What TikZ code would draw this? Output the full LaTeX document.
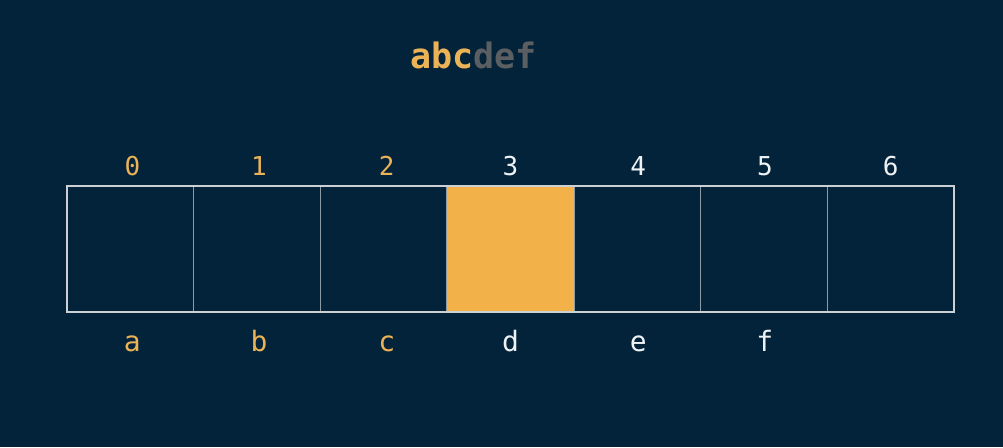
\documentclass[tikz,border=0pt]{standalone}
\usepackage{fontspec}
\setmonofont{DejaVu Sans Mono}
\definecolor{bgnavy}{HTML}{03233A}
\definecolor{hlorange}{HTML}{F3B14A}
\definecolor{txtorange}{HTML}{EBB256}
\definecolor{dimgray}{HTML}{5C5F62}
\definecolor{framegray}{HTML}{CBD0D5}
\definecolor{linegray}{HTML}{8D9BA5}
\definecolor{offwhite}{HTML}{EEF2F5}
\tikzset{
  cell/.style={draw=linegray, line width=0.7pt, minimum width=63.36pt,
    minimum height=63pt, inner sep=0pt, outer sep=0pt},
  idxlabel/.style={font=\ttfamily\fontsize{13}{15}\selectfont, anchor=base},
  charlabel/.style={font=\ttfamily\fontsize{14}{16}\selectfont, anchor=base},
}
\begin{document}
\begin{tikzpicture}[x=0.5pt, y=-0.5pt]
  % Background and page size
  \fill[bgnavy] (0,0) rectangle (1003,447);
  \useasboundingbox (0,0) rectangle (1003,447);
  % The string being read
  \node[font=\ttfamily\bfseries\fontsize{17.5}{19}\selectfont, anchor=base]
    (word) at (473.5,68) {\textcolor{txtorange}{abc}\textcolor{dimgray}{def}};
  % Array cells, index above, character below
  \foreach \i/\ch/\col/\dx in {0/a/txtorange/2, 1/b/txtorange/2,
      2/c/txtorange/3, 3/d/offwhite/0, 4/e/offwhite/1,
      5/f/offwhite/1, 6//offwhite/0} {
    \node[cell] (c\i) at ({67+126.71*(\i+0.5)},249) {};
    \node[idxlabel, text=\col] (n\i) at ({67+126.71*(\i+0.5)+\dx},175) {\i};
    \node[charlabel, text=\col] (s\i) at ({67+126.71*(\i+0.5)+\dx},351) {\ch};
  }
  % Current position
  \fill[hlorange] (c3.north west) rectangle (c3.south east);
  % Outer frame
  \draw[framegray, line width=1.4pt] (c0.north west) rectangle (c6.south east);
\end{tikzpicture}
\end{document}
